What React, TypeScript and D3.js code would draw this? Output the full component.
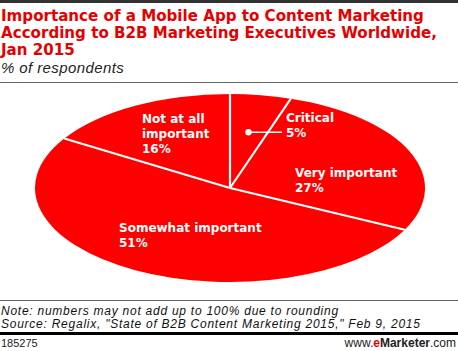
import React from "react";
import * as d3 from "d3";

const categories = ["Critical", "Very important", "Somewhat important", "Not at all important"];
const values = [5, 27, 51, 16];
const labelLines = [["Critical", "5%"], ["Very important", "27%"], ["Somewhat important", "51%"], ["Not at all", "important", "16%"]];
const titleLines = [
  "Importance of a Mobile App to Content Marketing",
  "According to B2B Marketing Executives Worldwide,",
  "Jan 2015",
];
const subtitle = "% of respondents";
const noteLines = [
  "Note: numbers may not add up to 100% due to rounding",
  "Source: Regalix, \"State of B2B Content Marketing 2015,\" Feb 9, 2015",
];
const chartId = "185275";

const W = 458;
const H = 351;
const RED = "#ff0000";
const cx = 230;
const cy = 188;
const rx = 195;
const ry = 94;

// label placement (layout), relative to the pie center
const labelPos = [
  { dx: 56, dy: -66 },
  { dx: 65, dy: -11 },
  { dx: -111, dy: 44 },
  { dx: -88, dy: -65 },
];

export default function App() {
  const pie = d3.pie<number>().sort(null).value((d) => d)(values);
  const arc = d3.arc<d3.PieArcDatum<number>>().innerRadius(0).outerRadius(rx);
  const sy = ry / rx;
  const pt = (a: number, k = 1) => [Math.sin(a) * rx * k, -Math.cos(a) * ry * k];
  const critMid = (pie[0].startAngle + pie[0].endAngle) / 2;
  const dot = pt(critMid, 0.6);

  return (
    <svg width={W} height={H} style={{ position: "absolute", left: 0, top: 0, background: "#fff" }}>
      <rect x={0} y={0} width={W} height={3} fill="#333" />
      <g fontFamily="'DejaVu Sans', Verdana, sans-serif" fontWeight="bold" fontSize={15.1} fill="#e60000">
        {titleLines.map((t, i) => (
          <text key={i} x={1} y={21 + i * 17}>{t}</text>
        ))}
      </g>
      <text x={1} y={73} fontFamily="'Liberation Sans', Arial, sans-serif" fontStyle="italic" fontSize={15} letterSpacing={0.4} fill="#222">
        {subtitle}
      </text>
      <line x1={0} x2={W} y1={82.5} y2={82.5} stroke="#666" strokeWidth={1} />

      <g transform={`translate(${cx},${cy})`}>
        <g transform={`scale(1,${sy})`}>
          {pie.map((p, i) => (
            <path key={categories[i]} d={arc(p) || ""} fill={RED} />
          ))}
        </g>
        {pie.map((p, i) => {
          const [x, y] = pt(p.startAngle);
          return <line key={"s" + i} x1={0} y1={0} x2={x} y2={y} stroke="#fff" strokeWidth={2.2} />;
        })}
        <circle cx={dot[0]} cy={dot[1]} r={3.2} fill="#fff" />
        <line x1={dot[0]} y1={dot[1]} x2={labelPos[0].dx - 4} y2={dot[1]} stroke="#fff" strokeWidth={1.5} />
        <g fontFamily="'DejaVu Sans', Verdana, sans-serif" fontWeight="bold" fontSize={12} fill="#fff">
          {labelLines.map((lines, i) => (
            <text key={"l" + i} x={labelPos[i].dx} y={labelPos[i].dy}>
              {lines.map((l, j) => (
                <tspan key={j} x={labelPos[i].dx} dy={j === 0 ? 0 : 15}>{l}</tspan>
              ))}
            </text>
          ))}
        </g>
      </g>

      <line x1={0} x2={W} y1={300.5} y2={300.5} stroke="#666" strokeWidth={1} />
      <g fontFamily="'Liberation Sans', Arial, sans-serif" fontStyle="italic" fontSize={12} letterSpacing={0.75} fill="#111">
        {noteLines.map((t, i) => (
          <text key={i} x={1} y={315 + i * 12.5}>{t}</text>
        ))}
      </g>
      <rect x={0} y={332} width={W} height={3} fill="#000" />
      <text x={1} y={347} fontFamily="'Liberation Sans', Arial, sans-serif" fontSize={11} fill="#222">{chartId}</text>
      <text x={456} y={347} textAnchor="end" fontFamily="'Liberation Sans', Arial, sans-serif" fontSize={12} fill="#222">
        <tspan>www.</tspan>
        <tspan fill="#e60000" fontWeight="bold">e</tspan>
        <tspan fontWeight="bold">Marketer</tspan>
        <tspan>.com</tspan>
      </text>
    </svg>
  );
}
